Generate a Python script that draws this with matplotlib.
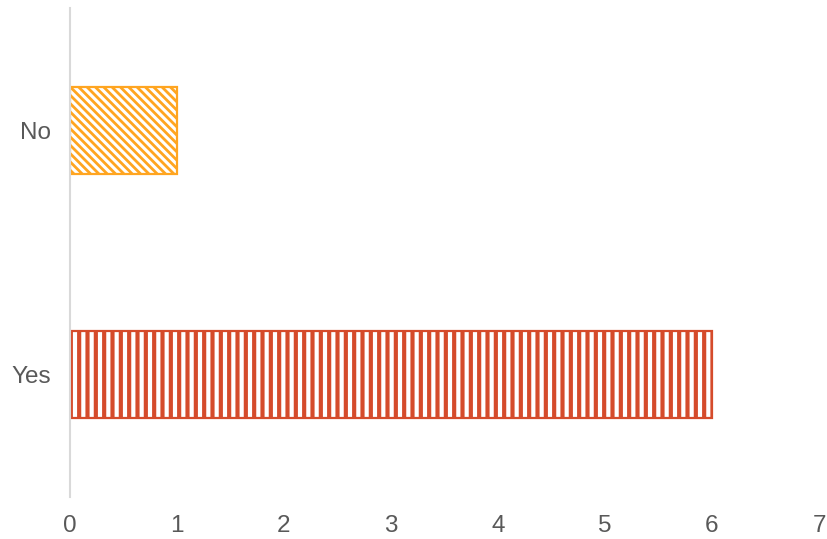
import matplotlib
matplotlib.use("Agg")
import matplotlib.pyplot as plt

categories = ["Yes", "No"]
values = [6, 1]
colors = ["#D54B2B", "#FFA520"]
hatches = ["||", "\\\\\\\\"]
hatch_lw = [3.0, 2.0]
xticks = [0, 1, 2, 3, 4, 5, 6, 7]

plt.rcParams['font.family'] = ['Liberation Sans', 'DejaVu Sans']

fig = plt.figure(figsize=(8.27, 5.39), dpi=100)
ax = fig.add_axes([70/827, 1-497/539, (819-70)/827, (497-8)/539])

for i, (c, v) in enumerate(zip(categories, values)):
    with plt.rc_context({'hatch.linewidth': hatch_lw[i]}):
        bars = ax.barh(i, v, height=0.355, facecolor='white', edgecolor=colors[i],
                       hatch=hatches[i], linewidth=1.6)
    for b in bars:
        if hasattr(b, 'set_hatch_linewidth'):
            b.set_hatch_linewidth(hatch_lw[i])

ax.set_xlim(0, 7)
ax.set_ylim(-0.5, 1.5)
ax.set_xticks(xticks)
ax.set_xticklabels([str(t) for t in xticks])
ax.set_yticks(range(len(categories)))
ax.set_yticklabels(categories)
for s in ['top', 'right', 'bottom']:
    ax.spines[s].set_visible(False)
ax.spines['left'].set_color('#D9D9D9')
ax.spines['left'].set_linewidth(1.5)
ax.tick_params(axis='both', length=0, labelsize=17.5, labelcolor='#595959')
ax.tick_params(axis='x', pad=13)
ax.tick_params(axis='y', pad=14)

fig.savefig("out.png", dpi=100)
